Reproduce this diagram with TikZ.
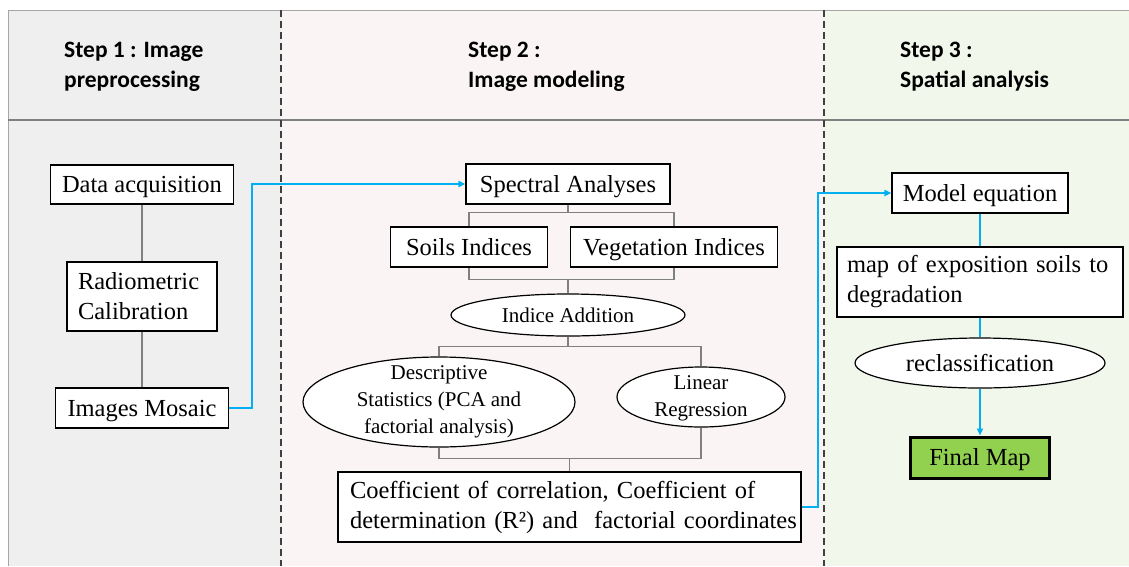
\documentclass[tikz,border=0pt]{standalone}
\usepackage{fontspec}
\setmainfont{Liberation Serif}
\newfontfamily\headfam{Carlito}
\usetikzlibrary{arrows.meta,shapes.geometric}
\definecolor{panelA}{HTML}{EFEFEF}
\definecolor{panelB}{HTML}{FBF4F4}
\definecolor{panelC}{HTML}{F2F7EC}
\definecolor{linkblue}{HTML}{00B0F0}
\definecolor{mapgreen}{HTML}{92D050}
\definecolor{sepgray}{HTML}{7F7F7F}
\definecolor{dashgray}{HTML}{404040}
\definecolor{conngray}{HTML}{808080}
\newcommand\boxfont{\fontsize{24.5}{30}\selectfont}
\newcommand\ellfont{\fontsize{21}{27}\selectfont}
\newcommand\headfont{\headfam\bfseries\fontsize{23.5}{30}\selectfont}
\begin{document}
\begin{tikzpicture}[x=1pt,y=-1pt,
  box/.style={draw=black, line width=1.2pt, fill=white, inner sep=0pt, font=\boxfont},
  sbox/.style={box, text height=17pt, text depth=1pt},
  lbox/.style={box, align=left, inner xsep=11pt},
  ell/.style={draw=black, line width=1.2pt, fill=white, ellipse, inner sep=0pt, font=\ellfont},
  head/.style={anchor=base west, inner sep=0pt, font=\headfont},
  conn/.style={draw=conngray, line width=1.1pt},
  link/.style={draw=linkblue, line width=1.8pt},
  linkarrow/.style={link, -{Triangle[length=7pt,width=6pt]}},
  divider/.style={draw=dashgray, line width=1.2pt, dash pattern=on 7pt off 4pt}
]
\useasboundingbox (0,0) rectangle (1129,566);
% panels
\fill[white] (0,0) rectangle (1129,566);
\fill[panelA] (8,10) rectangle (281,566);
\fill[panelB] (281,10) rectangle (824,566);
\fill[panelC] (824,10) rectangle (1129,566);
\draw[draw=gray!70, line width=1pt] (8,566) -- (8,10) -- (1129,10);
\draw[draw=sepgray, line width=2.5pt] (8,120) -- (1129,120);
\draw[divider] (281,10) -- (281,566);
\draw[divider] (824,10) -- (824,566);

% headers
\node[head] (h1a) at (64,57) {Step 1 : Image};
\node[head] (h1b) at (64,87) {preprocessing};
\node[head] (h2a) at (468,57) {Step 2 :};
\node[head] (h2b) at (468,87) {Image modeling};
\node[head] (h3a) at (900,57) {Step 3 :};
\node[head] (h3b) at (900,87) {Spatial analysis};

% step 1
\node[sbox, minimum width=183pt, minimum height=39pt] (da) at (142,184.5) {Data acquisition};
\node[lbox, text width=128pt, minimum height=69pt] (rc) at (142,296.5) {Radiometric\\Calibration};
\node[sbox, minimum width=173pt, minimum height=40pt] (im) at (142,408) {Images Mosaic};
\draw[conn] (da) -- (rc);
\draw[conn] (rc) -- (im);

% step 2
\node[sbox, minimum width=204pt, minimum height=40pt] (sa) at (568,184) {Spectral Analyses};
\node[sbox, minimum width=157pt, minimum height=40pt] (si) at (469,247) {Soils Indices};
\node[sbox, minimum width=207pt, minimum height=40pt] (vi) at (674,247) {Vegetation Indices};
\node[ell, minimum width=234pt, minimum height=42pt] (ia) at (568,315) {Indice Addition};
\node[ell, minimum width=272pt, minimum height=90pt] (ds) at (439,402) {};
\node[align=center, inner sep=0pt, font=\ellfont] (dst) at (439,402) {Descriptive\\Statistics (PCA and\\factorial analysis)};
\node[ell, minimum width=168pt, minimum height=60pt] (lr) at (701,397) {};
\node[align=center, inner sep=0pt, font=\ellfont] (lrt) at (701,398) {Linear\\Regression};
\node[lbox, inner xsep=12pt, text width=439pt, minimum height=70pt] (co) at (569.5,507)
  {\mbox{Coefficient of correlation, Coefficient of}\\\mbox{determination (R²) and\ \ factorial coordinates}};

\draw[conn] (sa.south) -- ++(0,8) -| (si.north);
\draw[conn] (sa.south) -- ++(0,8) -| (vi.north);
\draw[conn] (si.south) -- ++(0,12) -| (ia.north);
\draw[conn] (vi.south) -- ++(0,12) -| (ia.north);
\draw[conn] (ia.south) -- ++(0,10) -| (ds.north);
\draw[conn] (ia.south) -- ++(0,10) -| (lr.north);
\draw[conn] (ds.south) -- ++(0,11) -| (co.north);
\draw[conn] (lr.south) -- ++(0,31) -| (co.north);

% step 3
\node[sbox, minimum width=176pt, minimum height=40pt] (me) at (980,193) {Model equation};
\node[lbox, inner xsep=10pt, text width=266pt, minimum height=70pt] (mp) at (980,282) {map of exposition soils to\\degradation};
\node[ell, minimum width=250pt, minimum height=50pt, font=\boxfont] (rec) at (980,363) {reclassification};
\node[sbox, fill=mapgreen, line width=3pt, minimum width=139pt, minimum height=41pt] (fm) at (980,457.5) {Final Map};

% blue links
\draw[linkarrow] (im.east) -- ++(23,0) |- (sa.west);
\draw[linkarrow] (co.east) -- ++(16,0) |- (me.west);
\draw[link] (me.south) -- (mp.north);
\draw[link] (mp.south) -- (rec.north);
\draw[linkarrow] (rec.south) -- (fm.north);
\end{tikzpicture}
\end{document}
